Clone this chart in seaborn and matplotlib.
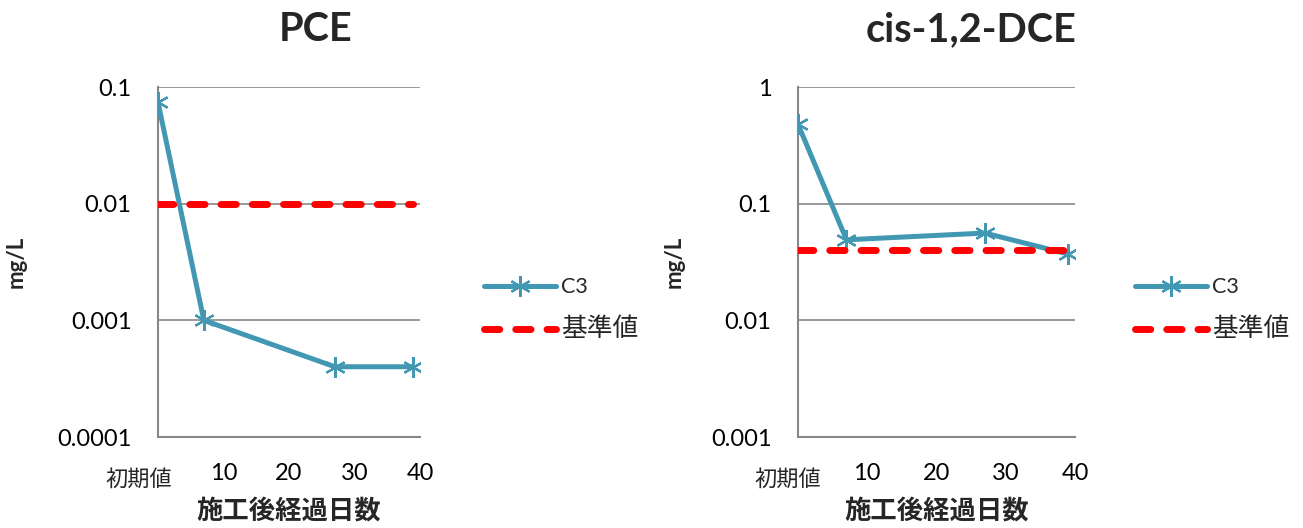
import numpy as np
import pandas as pd
import matplotlib
matplotlib.use("Agg")
import matplotlib.pyplot as plt
import seaborn as sns

# data
days = [0, 7, 27, 39]
pce_c3 = [0.074, 0.001, 0.0004, 0.0004]
pce_std = 0.01
dce_c3 = [0.48, 0.049, 0.056, 0.037]
dce_std = 0.04

x_ticks = [10, 20, 30, 40]
x_ticklabels = ["10", "20", "30", "40"]
pce_yticks = [0.0001, 0.001, 0.01, 0.1]
pce_yticklabels = ["0.0001", "0.001", "0.01", "0.1"]
dce_yticks = [0.001, 0.01, 0.1, 1]
dce_yticklabels = ["0.001", "0.01", "0.1", "1"]

sns.set_style("white")
plt.rcParams["font.family"] = ["Lato", "Noto Sans CJK JP", "DejaVu Sans"]

TEAL = "#4298B2"
RED = "#FF0000"
GRID = "#878787"

fig = plt.figure(figsize=(13.03, 5.28), dpi=100)
ax1 = fig.add_axes([158 / 1303, 1 - 437 / 528, 262 / 1303, 350 / 528])
ax2 = fig.add_axes([798 / 1303, 1 - 437 / 528, 277 / 1303, 350 / 528])


def draw(ax, title, values, std, yticks, yticklabels, title_x, ylab_x, init_x, leg_x):
    df = pd.DataFrame({"day": days, "C3": values, "基準値": [std] * len(days)})
    sns.lineplot(data=df, x="day", y="C3", ax=ax, color=TEAL, lw=3.6,
                 marker=(6, 2, 0), markersize=15, markeredgewidth=1.6,
                 markeredgecolor=TEAL, label="C3", zorder=3)
    sns.lineplot(data=df, x="day", y="基準値", ax=ax, color=RED, lw=5,
                 label="基準値", zorder=4)
    ax.lines[-1].set_linestyle((0, (2.2, 2.3)))
    ax.lines[-1].set_dash_capstyle("round")
    ax.set_yscale("log")
    ax.set_ylim(yticks[0], yticks[-1])
    ax.set_xlim(0, 40)
    ax.set_yticks(yticks, yticklabels)
    ax.minorticks_off()
    ax.set_xticks(x_ticks, x_ticklabels)
    ax.tick_params(axis="both", length=0, labelsize=17, colors="black")
    ax.tick_params(axis="x", pad=19)
    ax.tick_params(axis="y", pad=19)
    for y in yticks[1:]:
        ax.axhline(y, color=GRID, lw=1.2, zorder=1)
    for s in ["top", "right"]:
        ax.spines[s].set_visible(False)
    for s in ["left", "bottom"]:
        ax.spines[s].set_color(GRID)
        ax.spines[s].set_linewidth(1.5)
    ax.text(init_x, -0.12, "初期値", transform=ax.transAxes, ha="center",
            va="center", fontsize=16)
    ax.set_xlabel("施工後経過日数", fontsize=19, fontweight="bold", labelpad=10)
    ax.set_ylabel("mg/L", fontsize=16, fontweight="bold")
    ax.yaxis.set_label_coords(ylab_x, 0.5)
    ax.set_title(title, fontsize=28.5, fontweight="bold", x=title_x, pad=33)
    leg = ax.legend(loc="center left", bbox_to_anchor=(leg_x, 0.365),
                    frameon=False, fontsize=15.5, handlelength=3.35,
                    labelspacing=0.9, handletextpad=0.25)
    leg.get_texts()[1].set_fontsize(18.5)
    ax.grid(False)


draw(ax1, "PCE", pce_c3, pce_std, pce_yticks, pce_yticklabels, 0.6, -0.5, -0.073, 1.17)
draw(ax2, "cis-1,2-DCE", dce_c3, dce_std, dce_yticks, dce_yticklabels, 0.625, -0.41, -0.036, 1.145)

fig.savefig("out.png", dpi=100)
